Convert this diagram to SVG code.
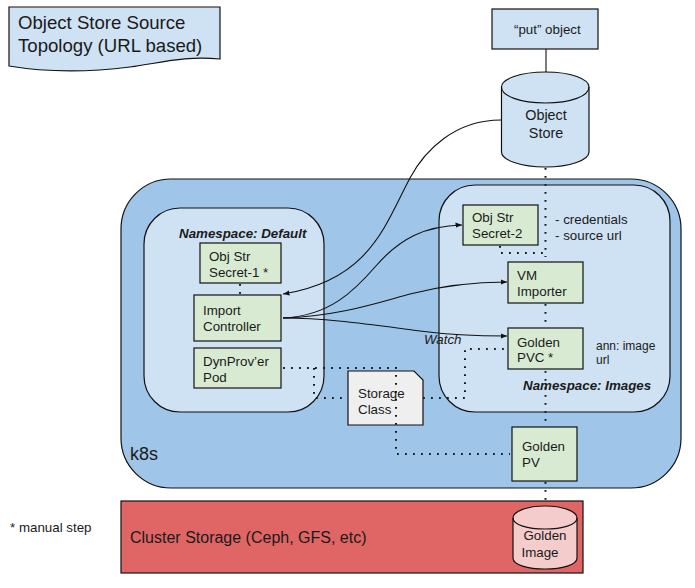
<svg xmlns="http://www.w3.org/2000/svg" width="695" height="588" viewBox="0 0 695 588">
<style>
text{font-family:"Liberation Sans",Arial,sans-serif;fill:#1a1a1a;font-size:13.33px}
.s{stroke:#111;stroke-width:1.2}
.b{fill:#cfe2f3}
.g{fill:#d9ead3}
.c{fill:none;stroke:#111;stroke-width:1.1}
.d{fill:none;stroke:#1a1a1a;stroke-width:2;stroke-dasharray:1.800 6.200}
.ni{font-weight:bold;font-style:italic}
.t{font-size:18.6px}
</style>
<defs><marker id="a" markerWidth="7" markerHeight="6" refX="6.500" refY="3" orient="auto" markerUnits="userSpaceOnUse"><path d="M0 .4L6.500 3L0 5.600z" fill="#111"/></marker></defs>
<rect width="695" height="588" fill="#fff"/>
<g id="topology-title"><path class="s b" d="M9 7H220V59C185 56 165 62 130 67C90 72 45 72 9 66Z"/><text class="t" x="18" y="29">Object Store Source</text><text class="t" x="18" y="52">Topology (URL based)</text></g>
<g id="k8s"><rect class="s" x="121" y="179" width="560" height="309" rx="50" fill="#9fc5e8"/><text x="130" y="460" style="font-size:18px">k8s</text></g>
<g id="ns-default"><rect class="s b" x="144" y="208" width="180" height="204" rx="36"/><text class="ni" x="179" y="238">Namespace: Default</text></g>
<g id="ns-images"><rect class="s b" x="439" y="185" width="231" height="227" rx="36"/><text class="ni" x="523" y="390">Namespace: Images</text></g>
<g id="cluster-storage"><rect class="s" x="121" y="501" width="462" height="72" fill="#e06666"/><text x="130" y="543" style="font-size:16px">Cluster Storage (Ceph, GFS, etc)</text></g>
<g id="storage-class"><path class="s" fill="#efefef" d="M348 371H414L423 380V425H348Z"/><text x="358" y="398">Storage</text><text x="358" y="414">Class</text></g>
<g id="connectors">
<path class="c" d="M546 49V72"/>
<path class="d" d="M545.500 168V257"/>
<path class="d" d="M500 246V253H545"/>
<path class="d" d="M545.500 304V328M545.500 371V428M545.500 482V508"/>
<path class="d" d="M240 284V296"/>
<path class="d" d="M283 368H396V454H510"/>
<path class="d" d="M314 368V398H348"/>
<path class="d" d="M423 398H465V349H507"/>
<path class="c" marker-end="url(#a)" d="M501 120C455 120 425 150 410 178C385 225 370 280 283 294"/>
<path class="c" marker-end="url(#a)" d="M283 318C330 316 355 290 375 267C400 238 425 226 462 225"/>
<path class="c" marker-end="url(#a)" d="M283 318C340 316 380 302 410 294C445 285 475 282 507 282"/>
<path class="c" marker-end="url(#a)" d="M283 318C330 318 380 326 420 331C450 335 480 336 507 336"/>
</g>
<g id="put-object"><rect class="s b" x="492" y="9" width="106" height="40"/><text x="514" y="34">“put” object</text></g>
<g id="object-store"><path class="s b" d="M501.500 87C501.500 79 520 72 545.500 72S589 79 589 87V152C589 160 570 167 545.500 167S501.500 160 501.500 152Z"/><path class="c" d="M501.500 87C501.500 96 520 103 545.500 103S589 96 589 87"/><text x="546" y="120" text-anchor="middle" style="font-size:14.400px">Object</text><text x="546" y="138" text-anchor="middle" style="font-size:14.400px">Store</text></g>
<g id="secret-1"><rect class="s g" x="200" y="243" width="81" height="40"/><text x="209" y="261">Obj Str</text><text x="209" y="277">Secret-1 *</text></g>
<g id="import-controller"><rect class="s g" x="194" y="295" width="87" height="46"/><text x="203" y="315">Import</text><text x="203" y="331">Controller</text></g>
<g id="dynprov"><rect class="s g" x="194" y="348" width="87" height="40"/><text x="203" y="366">DynProv’er</text><text x="203" y="382">Pod</text></g>
<g id="secret-2"><rect class="s g" x="463" y="205" width="75" height="40"/><text x="472" y="222">Obj Str</text><text x="472" y="238">Secret-2</text></g>
<g id="vm-importer"><rect class="s g" x="508" y="262" width="75" height="41"/><text x="517" y="280">VM</text><text x="517" y="296">Importer</text></g>
<g id="golden-pvc"><rect class="s g" x="508" y="328" width="75" height="41"/><text x="517" y="347">Golden</text><text x="517" y="362">PVC *</text></g>
<g id="golden-pv"><rect class="s g" x="512" y="427" width="65" height="54"/><text x="522" y="451">Golden</text><text x="522" y="467">PV</text></g>
<g id="golden-image"><path class="s" fill="#f4cccc" d="M513 518C513 511 528 506 545 506S577 511 577 518V558C577 565 562 569 545 569S513 565 513 558Z"/><path class="c" d="M513 518C513 525 528 529 545 529S577 525 577 518"/><text x="545" y="540" text-anchor="middle">Golden</text><text x="540" y="557" text-anchor="middle">Image</text></g>
<g id="labels"><text x="555" y="224">- credentials</text><text x="555" y="240">- source url</text><text x="596" y="350" style="font-size:12px">ann: image</text><text x="596" y="364" style="font-size:12px">url</text><text x="424" y="344" font-style="italic">Watch</text><text x="10" y="532">* manual step</text></g>
</svg>
